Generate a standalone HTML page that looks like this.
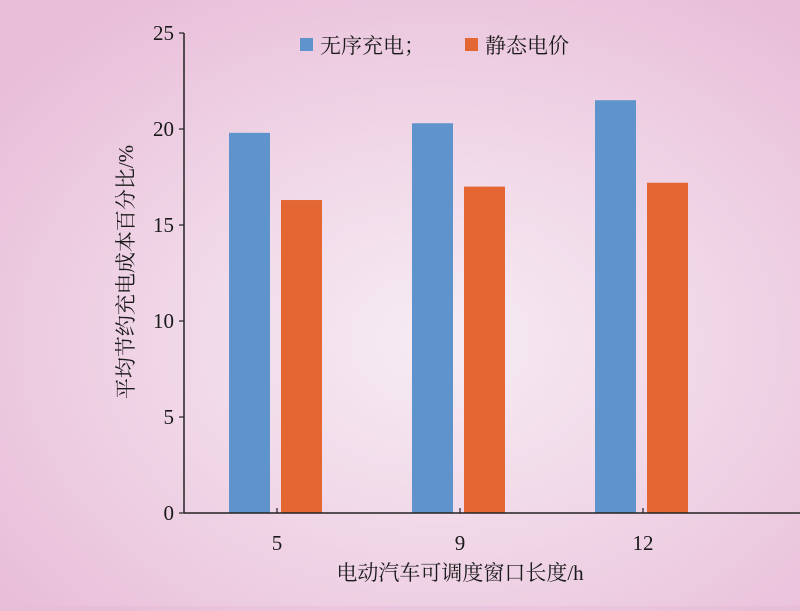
<!DOCTYPE html>
<html><head><meta charset="utf-8"><style>
html,body{margin:0;padding:0}
body{width:800px;height:606px;overflow:hidden;background:radial-gradient(ellipse 560px 420px at 440px 340px,#f6ecf3 0%,#f0d6e7 50%,#e8bdd8 100%);font-family:"Liberation Serif","Noto Serif CJK SC",serif;}
svg text{font-family:"Liberation Serif","Noto Serif CJK SC",serif;fill:#1a1a1a}
</style></head><body>
<svg width="800" height="606" viewBox="0 0 800 606">
<g id="g"></g>
</svg>
<script>
const categories=["5","9","12"];
const seriesNames=["无序充电；","静态电价"];
const disorderly=[19.8,20.3,21.5];
const staticPrice=[16.3,17.0,17.2];
const yTicks=[0,5,10,15,20,25];
const colors=["#5e93cc","#e46633"];
const NS="http://www.w3.org/2000/svg";
const g=document.getElementById('g');
const x0=184,y0=513,yTop=33,yMax=25;
const y=v=>y0-(v/yMax)*(y0-yTop);
const cx=i=>277+i*183;
function el(t,a,txt){const e=document.createElementNS(NS,t);for(const k in a)e.setAttribute(k,a[k]);if(txt!==undefined)e.textContent=txt;g.appendChild(e);return e;}
[disorderly,staticPrice].forEach((s,si)=>{s.forEach((v,i)=>{
const left=si===0?cx(i)-48:cx(i)+4;
const r=el('rect',{x:left,y:y(v),width:41,height:y0-y(v),fill:colors[si]});


});});
let a=el('line',{x1:x0,y1:yTop,x2:x0,y2:y0,stroke:'#222','stroke-width':1.5});

a=el('line',{x1:x0,y1:y0,x2:800,y2:y0,stroke:'#222','stroke-width':1.5});

yTicks.forEach(t=>{
el('line',{x1:x0-5,y1:y(t),x2:x0,y2:y(t),stroke:'#222','stroke-width':1.2});
const tx=el('text',{x:174,y:y(t)+7,'text-anchor':'end','font-size':21},t);

});
categories.forEach((c,i)=>{
el('line',{x1:cx(i),y1:y0-5,x2:cx(i),y2:y0,stroke:'#222','stroke-width':1.2});
const tx=el('text',{x:cx(i),y:550,'text-anchor':'middle','font-size':21},c);

});
let t=el('text',{x:460,y:580,'text-anchor':'middle','font-size':21},'电动汽车可调度窗口长度/h');

t=el('text',{x:0,y:0,'text-anchor':'middle','font-size':21,transform:'translate(133,272) rotate(-90)'},'平均节约充电成本百分比/%');

[[300,320],[465,485]].forEach((p,i)=>{
const r=el('rect',{x:p[0],y:38,width:13,height:13,fill:colors[i]});

const tx=el('text',{x:p[1],y:53,'font-size':21},seriesNames[i]);

});
</script>
</body></html>
